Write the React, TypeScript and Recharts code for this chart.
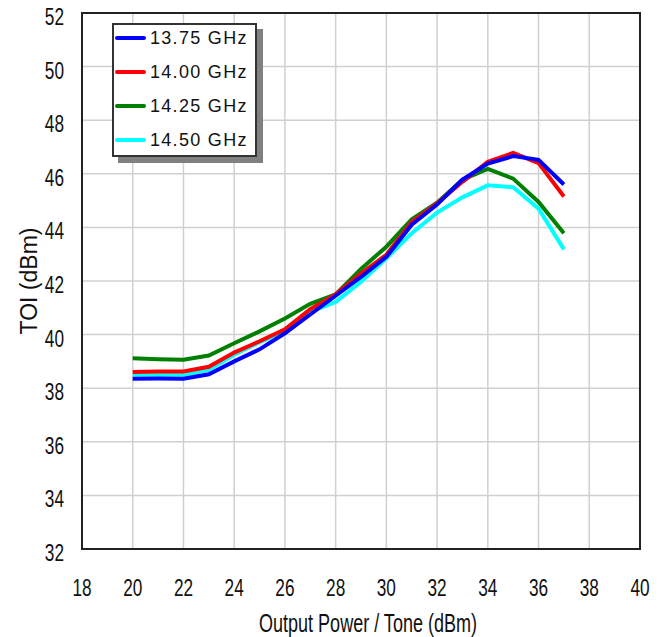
import React from 'react';
import { LineChart, Line, XAxis, YAxis, CartesianGrid, ReferenceArea, Legend, Label } from 'recharts';

const outputPower = [20, 21, 22, 23, 24, 25, 26, 27, 28, 29, 30, 31, 32, 33, 34, 35, 36, 37];
const toi1375 = [38.35, 38.36, 38.35, 38.52, 39.0, 39.45, 40.05, 40.75, 41.45, 42.15, 42.9, 44.1, 44.85, 45.78, 46.38, 46.66, 46.52, 45.6];
const toi1400 = [38.6, 38.62, 38.62, 38.8, 39.33, 39.75, 40.2, 40.95, 41.5, 42.28, 42.98, 44.2, 44.9, 45.7, 46.45, 46.78, 46.4, 45.15];
const toi1425 = [39.12, 39.08, 39.06, 39.22, 39.68, 40.12, 40.6, 41.15, 41.5, 42.45, 43.28, 44.3, 44.92, 45.78, 46.18, 45.82, 44.95, 43.78];
const toi1450 = [38.5, 38.5, 38.5, 38.68, 39.25, 39.72, 40.12, 40.85, 41.22, 41.97, 42.85, 43.78, 44.55, 45.12, 45.57, 45.5, 44.7, 43.18];

const xTicks = [18, 20, 22, 24, 26, 28, 30, 32, 34, 36, 38, 40];
const yTicks = [32, 34, 36, 38, 40, 42, 44, 46, 48, 50, 52];

const seriesNames = ['13.75 GHz', '14.00 GHz', '14.25 GHz', '14.50 GHz'];
const seriesKeys = ['f1375', 'f1400', 'f1425', 'f1450'];
const seriesColors = ['#0000ff', '#ff0000', '#008000', '#00ffff'];

const data = outputPower.map((x, i) => ({
  x,
  f1375: toi1375[i],
  f1400: toi1400[i],
  f1425: toi1425[i],
  f1450: toi1450[i],
}));

const SANS = "'Liberation Sans', Arial, sans-serif";

const XTick = (props: any) => {
  const { x, y, payload } = props;
  return (
    <g transform={`translate(${x},${y + 47}) scale(0.82,1.16)`}>
      <text x={0} y={0} textAnchor="middle" fontFamily={SANS} fontSize={21} fill="#111">
        {payload.value}
      </text>
    </g>
  );
};

const YTick = (props: any) => {
  const { x, y, payload } = props;
  return (
    <g transform={`translate(${x - 18},${y + 12}) scale(0.82,1.16)`}>
      <text x={0} y={0} textAnchor="end" fontFamily={SANS} fontSize={21} fill="#111">
        {payload.value}
      </text>
    </g>
  );
};

const renderLegend = () => (
  <div
    style={{
      position: 'relative',
      width: 141,
      height: 130,
      border: '2px solid #333',
      background: '#fff',
      boxShadow: '6px 6px 0 #808080',
      fontFamily: SANS,
      fontSize: 18,
      letterSpacing: 1.3,
      color: '#111',
    }}
  >
    {seriesNames.map((name, i) => (
      <div
        key={name}
        style={{ position: 'absolute', left: 0, top: -4 + 34 * i, height: 34, width: 141, display: 'flex', alignItems: 'center' }}
      >
        <div style={{ position: 'absolute', left: 1, width: 31, height: 4, borderRadius: 2, background: seriesColors[i] }} />
        <span style={{ position: 'absolute', left: 36, whiteSpace: 'nowrap', lineHeight: '34px' }}>{name}</span>
      </div>
    ))}
  </div>
);

export default function App() {
  const drawOrder = [3, 2, 1, 0];
  return (
    <div style={{ position: 'absolute', left: 0, top: 0, width: 666, height: 637, background: '#fff' }}>
      <LineChart width={666} height={637} data={data} margin={{ top: 13, right: 26, left: 0, bottom: 0 }}>
        <CartesianGrid stroke="#d0d0d0" strokeWidth={1.5} />
        <XAxis
          dataKey="x"
          type="number"
          domain={[18, 40]}
          ticks={xTicks}
          height={88}
          axisLine={false}
          tickLine={false}
          tickSize={0}
          tickMargin={0}
          tick={<XTick />}
          interval={0}
        >
          <Label
            content={(props: any) => {
              const vb = props.viewBox || { x: 82, y: 549, width: 558, height: 88 };
              return (
                <g transform={`translate(${vb.x + vb.width / 2 + 7},${vb.y + 83}) scale(0.82,1.2)`}>
                  <text x={0} y={0} textAnchor="middle" fontFamily={SANS} fontSize={22} fill="#111">
                    Output Power / Tone (dBm)
                  </text>
                </g>
              );
            }}
          />
        </XAxis>
        <YAxis
          type="number"
          domain={[32, 52]}
          ticks={yTicks}
          width={82}
          axisLine={false}
          tickLine={false}
          tickSize={0}
          tickMargin={0}
          tick={<YTick />}
          interval={0}
        >
          <Label
            content={(props: any) => {
              const vb = props.viewBox || { x: 0, y: 13, width: 82, height: 536 };
              const cy = vb.y + vb.height / 2;
              return (
                <text
                  x={36.5}
                  y={cy}
                  transform={`rotate(-90, 36.5, ${cy})`}
                  textAnchor="middle"
                  fontFamily={SANS}
                  fontSize={23}
                  fill="#111"
                >
                  TOI (dBm)
                </text>
              );
            }}
          />
        </YAxis>
        {drawOrder.map((i) => (
          <Line
            key={seriesKeys[i]}
            type="linear"
            dataKey={seriesKeys[i]}
            name={seriesNames[i]}
            stroke={seriesColors[i]}
            strokeWidth={4}
            dot={false}
            activeDot={false}
            isAnimationActive={false}
          />
        ))}
        <ReferenceArea x1={18} x2={40} y1={32} y2={52} fill="none" stroke="#222" strokeWidth={2} ifOverflow="visible" />
        <Legend
          layout="vertical"
          align="center"
          verticalAlign="middle"
          content={renderLegend}
          wrapperStyle={{ position: 'absolute', left: 112, top: 23, width: 'auto', height: 'auto' }}
        />
      </LineChart>
    </div>
  );
}
